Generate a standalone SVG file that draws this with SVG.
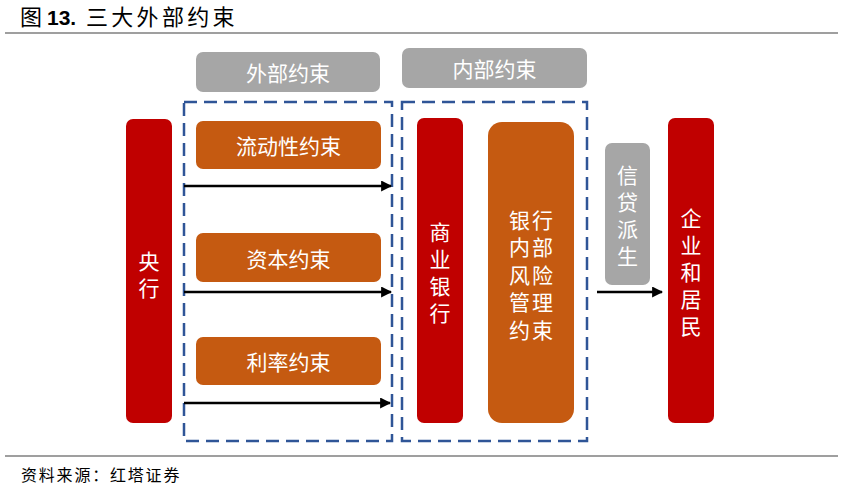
<svg xmlns="http://www.w3.org/2000/svg" width="865" height="490" viewBox="0 0 865 490">
<defs>
<style>
.t{font-family:"Noto Sans CJK SC","Liberation Sans",sans-serif;}
.lbl{font-family:"Noto Sans CJK SC",sans-serif;font-size:21px;fill:#ffffff;text-anchor:middle;dominant-baseline:central;}
.vl{font-family:"Noto Sans CJK SC",sans-serif;font-size:21px;fill:#ffffff;text-anchor:middle;writing-mode:vertical-rl;letter-spacing:6px;}
.red{fill:#C00000;}
.org{fill:#C55A11;}
.gry{fill:#A6A6A6;}
.dash{fill:none;stroke:#2F5597;stroke-width:2.5;stroke-dasharray:13 7;}
.arr{stroke:#000;stroke-width:2.5;fill:none;marker-end:url(#ah);}
.rule{stroke:#7F7F7F;stroke-width:1.5;}
</style>
<marker id="ah" viewBox="0 0 10 10" refX="9" refY="5" markerWidth="4.4" markerHeight="4.4" orient="auto" markerUnits="strokeWidth">
<path d="M0,0 L10,5 L0,10 z" fill="#000"/>
</marker>
</defs>
<rect width="865" height="490" fill="#ffffff"/>
<g id="title">
<text y="25" class="t" fill="#000" font-weight="normal"><tspan x="20" font-size="22">图</tspan><tspan x="47" font-family="Liberation Sans,sans-serif" font-weight="bold" font-size="21">13.</tspan><tspan x="86" font-size="22" letter-spacing="3.3">三大外部约束</tspan></text>
<line x1="5" y1="33" x2="838" y2="33" class="rule"/>
</g>
<g id="group-external">
<rect x="196" y="52" width="184" height="40" rx="7" class="gry"/>
<text x="288" y="72" class="lbl">外部约束</text>
<rect x="184" y="102" width="208" height="339" class="dash"/>
</g>
<g id="group-internal">
<rect x="402" y="48" width="185" height="40" rx="7" class="gry"/>
<text x="494.5" y="68" class="lbl">内部约束</text>
<rect x="402" y="102" width="185" height="339" class="dash"/>
</g>
<g id="central-bank">
<rect x="126" y="119" width="46" height="304" rx="7" class="red"/>
<text class="vl" x="149" y="278">央行</text>
</g>
<g id="liquidity">
<rect x="196" y="121" width="185" height="48" rx="7" class="org"/>
<text x="288.5" y="145" class="lbl">流动性约束</text>
</g>
<g id="capital">
<rect x="196" y="233" width="185" height="49" rx="7" class="org"/>
<text x="288.5" y="257.5" class="lbl">资本约束</text>
</g>
<g id="rate">
<rect x="196" y="337" width="185" height="48" rx="7" class="org"/>
<text x="288.5" y="361" class="lbl">利率约束</text>
</g>
<g id="commercial-bank">
<rect x="417" y="118" width="46" height="305" rx="7" class="red"/>
<text class="vl" x="440" y="275.5">商业银行</text>
</g>
<g id="internal-risk">
<rect x="488" y="122" width="86" height="301" rx="14" class="org"/>
<text class="lbl" font-size="19" letter-spacing="2"><tspan x="532" y="218.5">银行</tspan><tspan x="532" y="246">内部</tspan><tspan x="532" y="273.5">风险</tspan><tspan x="532" y="301">管理</tspan><tspan x="532" y="328.5">约束</tspan></text>
</g>
<g id="credit">
<rect x="605" y="143" width="45" height="142" rx="7" class="gry"/>
<text class="vl" x="627.5" y="219">信贷派生</text>
</g>
<g id="households">
<rect x="668" y="118" width="46" height="305" rx="7" class="red"/>
<text class="vl" x="691" y="275.5">企业和居民</text>
</g>
<g id="connectors">
<line x1="184" y1="186" x2="391" y2="186" class="arr"/>
<line x1="184" y1="292" x2="391" y2="292" class="arr"/>
<line x1="184" y1="403" x2="390" y2="403" class="arr"/>
<line x1="597" y1="292" x2="662" y2="292" class="arr"/>
</g>
<g id="footer">
<line x1="5" y1="456" x2="838" y2="456" class="rule"/>
<text x="21" y="481" class="t" font-size="16" letter-spacing="1.8" fill="#000">资料来源：红塔证券</text>
</g>
</svg>
